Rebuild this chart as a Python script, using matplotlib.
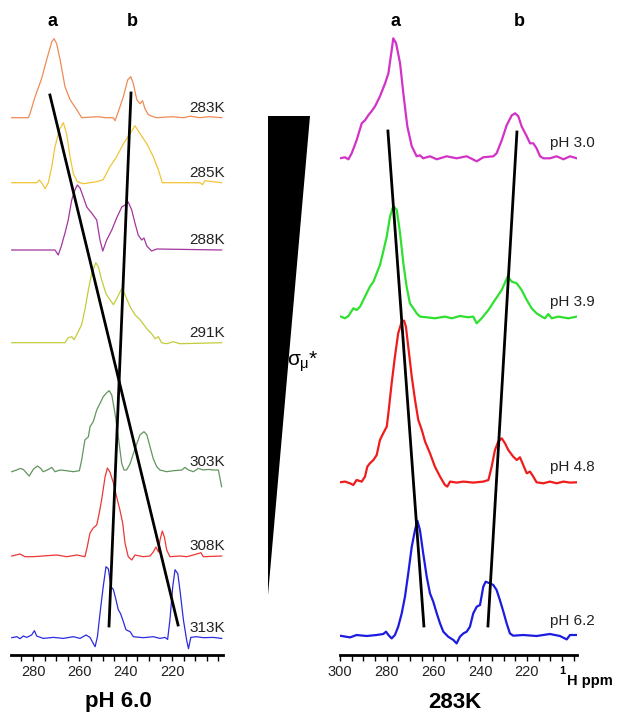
import numpy as np
import matplotlib
matplotlib.use('Agg')
import matplotlib.pyplot as plt
from matplotlib.patches import Polygon

plt.rcParams['font.family'] = ['Liberation Sans', 'DejaVu Sans']
plt.rcParams['mathtext.fontset'] = 'custom'
plt.rcParams['mathtext.rm'] = 'Liberation Sans'
plt.rcParams['mathtext.it'] = 'Liberation Sans'
plt.rcParams['mathtext.bf'] = 'Liberation Sans:bold'

# ---- left panel: temperature series at pH 6.0 (ppm, intensity above baseline)
t283_ppm = [289.2, 282.0, 281.3, 279.1, 276.3, 274.1, 271.9, 270.9, 269.8, 268.3, 266.2, 264.0, 261.1, 259.0,
            252.0, 248.5, 245.3, 244.6, 243.2, 241.0, 239.1, 237.8, 236.7, 235.2, 233.8, 232.7, 231.7, 230.2,
            228.1, 226.6, 220.0, 215.0, 212.2, 208.0, 204.0, 198.6]
t283_int = [0, 0, 4, 21, 39, 58, 76, 79, 74, 58, 31, 18, 8, 0,
            1, 0, 0, -3, 6, 21, 38, 41, 34, 18, 14, 17, 9, 3,
            1, 0, 1, 0, 1.5, 0, 1, 0]

t285_ppm = [289.2, 278.4, 277.3, 276.0, 274.8, 273.4, 271.9, 270.5, 268.6, 266.9, 265.5, 264.0, 262.6, 260.9,
            258.3, 252.5, 249.7, 246.8, 243.9, 241.0, 238.1, 236.0, 233.8, 230.9, 228.1, 225.9, 224.2,
            207.9, 206.9, 205.8, 198.6]
t285_int = [0, 0, 2.7, -1, -6, 0, 16, 36, 53, 60, 49, 26, 9, 1,
            -1, 1, 3, 16, 26, 39, 49, 57, 49, 39, 26, 13, 0,
            0, -2, 2, 0]

t288_ppm = [289.2, 270.5, 269.1, 267.9, 266.2, 264.8, 263.3, 261.9, 260.9, 259.7, 258.3, 256.8, 254.7, 252.5,
            251.1, 249.9, 248.2, 246.0, 243.9, 241.7, 240.3, 238.9, 237.4, 236.0, 234.6, 233.1, 232.1, 230.9,
            228.8, 226.6, 198.6]
t288_int = [0, 0, -5, 3, 17, 30, 50, 60, 65, 62, 53, 43, 37, 30,
            10, -1, 10, 20, 32, 43, 45, 48, 40, 27, 15, 10, 12, 4,
            -1, 1, 0]

t291_ppm = [289.2, 266.2, 264.8, 263.3, 262.3, 260.9, 259.0, 257.6, 256.1, 254.7, 252.9, 251.8, 250.4, 248.5,
            246.8, 245.3, 243.9, 241.7, 240.3, 238.1, 236.0, 233.8, 230.9, 228.8, 227.3, 225.9, 224.5,
            222.3, 219.4, 216.6, 198.6]
t291_int = [0, 0, 5, 6, 3, 9, 18, 33, 53, 69, 80, 76, 63, 49,
            43, 38, 44, 54, 48, 36, 28, 23, 14, 9, 4, 6, 0,
            -1, 1, -1, 0]

t303_ppm = [289.2, 287.0, 285.6, 284.2, 282.7, 281.6, 279.9, 278.1, 276.7, 275.6, 273.8, 271.9, 270.5, 268.3,
            265.5, 262.6, 260.0, 259.0, 257.6, 256.1, 255.4, 254.0, 252.5, 251.1, 249.7, 248.2, 247.1, 246.0,
            244.6, 243.2, 241.7, 240.7, 239.6, 238.1, 236.7, 235.2, 233.8, 232.1, 230.9, 229.5, 228.1, 226.6,
            225.2, 222.3, 219.4, 215.8, 214.4, 212.9, 210.8, 208.7, 206.5, 204.3, 202.2, 200.0, 198.6]
t303_int = [0, 1.7, 3.3, 2.3, -1.7, -4.3, 2.3, 5.7, 3.3, 0, 1.7, 4.3, 0, 1.7,
            1, 0, 1, 11.7, 31.7, 35, 45, 50, 61.7, 68.3, 75, 79, 81, 76.7,
            58, 35, 8, 1.7, 1.7, 8, 18, 28, 37, 40, 37, 25, 13, 5,
            1.7, 0, 1, 1.7, 4.3, 1.7, 0, 3.3, 1.7, 2.3, 1.7, 1.7, -15]

t308_ppm = [289.2, 285.6, 283.5, 279.9, 269.8, 265.5, 261.1, 257.6, 256.6, 255.4, 254.0, 252.5, 251.4, 250.4,
            248.9, 247.9, 246.8, 245.3, 243.9, 242.5, 241.3, 240.3, 238.9, 237.4, 236.0, 232.4, 229.5, 228.1,
            226.9, 225.9, 225.2, 224.2, 223.3, 222.3, 220.9, 216.6, 213.7, 210.8, 207.5, 206.5, 198.6]
t308_int = [0, 2, -0.7, -0.7, 1, -0.7, 1, -0.7, 9, 23, 28, 31, 43, 56,
            79, 88, 84, 73, 59, 46, 33, 13, -0.7, -4, 1, -0.7, 0, 4,
            9, 4, 16, 25, 19, 6, -0.7, 0, -0.7, 1, 3.3, -0.7, 0]

t313_ppm = [289.2, 287.0, 285.6, 284.2, 282.7, 280.6, 279.4, 278.4, 275.6, 271.2, 266.9, 262.6, 259.7, 257.1,
            255.4, 254.0, 253.2, 252.2, 251.1, 249.7, 248.5, 247.5, 246.3, 245.3, 244.2, 243.2, 242.2, 241.0,
            239.9, 238.1, 236.7, 232.4, 228.1, 225.2, 223.0, 221.9, 220.9, 219.7, 218.7, 217.5, 216.6, 215.1,
            213.7, 212.9, 211.9, 209.4, 206.5, 202.2, 198.6]
t313_int = [0, 1, -1, 1.7, 0.3, 2.7, 7, 1.7, -0.7, 0.3, -0.7, 1, -0.7, 2.7,
            0.3, -5.7, -9, 1, 24, 51, 71, 69, 51, 48, 38, 28, 24, 16,
            8, 6, 1, 0, 1, -0.7, 0.3, -1.7, 18, 51, 68, 64, 48, 18,
            -2.3, -11, 0.3, 1, 0, 0.3, -0.7]

temp_labels = ['283K', '285K', '288K', '291K', '303K', '308K', '313K']
temp_ppm = [t283_ppm, t285_ppm, t288_ppm, t291_ppm, t303_ppm, t308_ppm, t313_ppm]
temp_int = [t283_int, t285_int, t288_int, t291_int, t303_int, t308_int, t313_int]
temp_offset = [537.3, 472.3, 405, 312.3, 183.3, 99, 17.3]
temp_colors = ['#f08a55', '#f2c435', '#a3359f', '#c3cc3a', '#63955f', '#ef3535', '#2b2bdf']

# guide lines for peaks a and b (ppm, height)
left_a_ppm = [272.7, 217.4]
left_a_y = [560, 30]
left_b_ppm = [237.7, 247.2]
left_b_y = [562, 29]

# ---- right panel: pH series at 283K
p30_ppm = [300.0, 297.9, 296.4, 295.0, 292.9, 290.7, 289.3, 287.9, 286.5, 285.0, 282.9, 280.7, 279.3, 277.9,
           277.2, 276.0, 274.3, 272.9, 271.2, 269.3, 267.2, 265.8, 264.4, 261.5, 258.6, 254.4, 250.1, 245.8,
           241.5, 238.7, 234.4, 233.0, 230.8, 228.7, 226.5, 225.1, 223.7, 222.3, 220.1, 218.7, 217.3, 215.9,
           214.4, 213.0, 210.2, 207.3, 204.4, 201.6, 198.7]
p30_int = [0, 1, -1, 5, 18, 35, 38, 43, 47, 52, 62, 75, 85, 108,
           120, 115, 95, 65, 32, 12, 2, 3, 0, 2, -1, 2, 0, 2,
           -3, 1, 2, 5, 18, 33, 43, 45, 42, 32, 22, 15, 15, 10,
           2, 0, 0, 2, -1, 2, 0]

p39_ppm = [299.6, 297.9, 296.4, 294.3, 292.9, 291.4, 289.3, 287.2, 285.7, 284.3, 282.9, 281.5, 280.0, 278.6,
           277.2, 275.7, 274.3, 272.9, 271.5, 270.1, 268.6, 267.2, 265.8, 262.9, 259.4, 255.1, 252.2, 248.7,
           245.1, 243.0, 241.5, 239.4, 236.5, 233.7, 230.8, 228.3, 226.5, 224.4, 222.3, 220.1, 218.0, 215.9,
           213.7, 212.3, 210.9, 209.4, 206.6, 202.3, 198.7]
p39_int = [0.7, -1, 1.3, 9, 7.3, 10.7, 20.7, 30.7, 35.7, 44, 52.3, 65.7, 80.7, 100.7,
           111.3, 107.3, 84, 54, 30.7, 14, 9, 4, 0.7, 0, -1, 0.7, -1, 1.3,
           0, 0.7, -6, -1, 7.3, 17.3, 27.3, 40.7, 35.7, 34, 27.3, 17.3, 9, 4,
           0.7, -1, 3.3, -1, 0.7, -1, 0.7]

p48_ppm = [300.0, 297.9, 295.7, 294.3, 292.9, 290.7, 289.3, 288.3, 287.2, 285.7, 284.3, 282.9, 281.5, 280.0,
           279.3, 277.9, 276.5, 275.1, 273.6, 272.6, 271.8, 270.8, 269.3, 267.9, 266.5, 265.0, 263.6, 261.5,
           259.4, 257.2, 255.1, 254.1, 252.9, 250.1, 247.2, 243.0, 238.7, 236.5, 235.1, 233.7, 232.3, 230.8,
           229.4, 228.0, 225.9, 224.4, 223.0, 221.6, 220.1, 218.7, 217.3, 215.9, 213.0, 210.2, 207.3, 204.4,
           201.6, 198.7]
p48_int = [0, 0.7, -1, -2.7, 2.3, 0.7, 5.7, 15.7, 19, 22.3, 27.3, 42.3, 49, 55.7,
           69, 99, 125.7, 149, 160.7, 161.7, 155.7, 135.7, 105.7, 82.3, 62.3, 52.3, 40.7, 29,
           15.7, 5.7, -2.7, -4.3, 0.7, -0.3, 0.7, -0.3, 0.7, 2.3, 15.7, 32.3, 40.7, 44,
           39, 32.3, 25.7, 22.3, 25, 17.3, 9, 10.7, 5.7, 0, -1, 0.7, -1, 0.7,
           -0.3, 0]

p62_ppm = [300.0, 295.7, 292.9, 288.6, 284.3, 281.5, 280.3, 279.3, 277.9, 276.5, 275.1, 273.6, 272.2, 270.8,
           269.3, 267.9, 266.9, 265.8, 264.4, 262.9, 261.5, 260.1, 258.6, 257.2, 255.8, 253.7, 251.5, 250.1,
           248.7, 247.2, 245.8, 244.4, 243.0, 241.5, 240.1, 238.7, 237.7, 235.8, 234.4, 233.0, 231.6, 230.1,
           228.7, 227.3, 225.9, 221.6, 215.9, 210.2, 205.9, 203.0, 201.6, 198.5]
p62_int = [0, -1.7, 0.7, -0.3, 0.7, 1.7, 4, 0.7, -2.7, 0.7, 9, 22.3, 39, 62.3,
           89, 105.7, 115, 105.7, 82.3, 59, 42.3, 34, 22.3, 12.3, 4, -1, -4.3, -7.7,
           -1, 2.3, 4, 9, 22.3, 29, 30.7, 49, 54, 52.3, 50.7, 45.7, 35.7, 24,
           12.3, 2.3, 0, 0.7, -0.3, 1.7, -0.3, -3.7, 0.7, 0.7]

ph_labels = ['pH 3.0', 'pH 3.9', 'pH 4.8', 'pH 6.2']
ph_ppm = [p30_ppm, p39_ppm, p48_ppm, p62_ppm]
ph_int = [p30_int, p39_int, p48_int, p62_int]
ph_offset = [496.7, 337.7, 172.7, 19.3]
ph_colors = ['#d232c6', '#2fe02f', '#f01c1c', '#1c1ce0']

right_a_ppm = [279.5, 264.1]
right_a_y = [524, 29]
right_b_ppm = [224.3, 236.7]
right_b_y = [523, 29]

W, H = 621, 715
fig = plt.figure(figsize=(W / 100., H / 100.), dpi=100)

def setup(ax, xlim, majors, minors):
	ax.set_xlim(xlim)
	ax.set_ylim(0, 655)
	for s in ['top', 'left', 'right']:
		ax.spines[s].set_visible(False)
	ax.spines['bottom'].set_linewidth(2)
	ax.set_yticks([])
	ax.set_xticks(majors)
	ax.set_xticks(minors, minor=True)
	ax.tick_params(axis='x', which='both', direction='out', length=4, width=1, labelsize=10.5,
	               labelcolor='#222222', pad=3)
	ax.patch.set_alpha(0)

# left panel
axL = fig.add_axes([11. / W, 60. / H, 212. / W, 655. / H])
setup(axL, (289.5, 198.0), [280, 260, 240, 220], np.arange(200, 290, 5))
for ppm, inten, off, col, lab in zip(temp_ppm, temp_int, temp_offset, temp_colors, temp_labels):
	axL.plot(ppm, np.array(inten) + off, color=col, lw=0.9)
	axL.text(197.2, off + 10, lab, ha='right', va='center', fontsize=11, color='#222222', clip_on=False)
axL.plot(left_a_ppm, left_a_y, color='black', lw=2)
axL.plot(left_b_ppm, left_b_y, color='black', lw=2)
axL.text(271.8, 634, 'a', ha='center', va='center', fontsize=13, fontweight='bold')
axL.text(237.0, 634, 'b', ha='center', va='center', fontsize=13, fontweight='bold')

# right panel
axR = fig.add_axes([340. / W, 60. / H, 237. / W, 655. / H])
setup(axR, (300, 198.6), [300, 280, 260, 240, 220], np.arange(200, 301, 5))
for ppm, inten, off, col, lab in zip(ph_ppm, ph_int, ph_offset, ph_colors, ph_labels):
	axR.plot(ppm, np.array(inten) + off, color=col, lw=1.6)
	axR.text(190.9, off + 15, lab, ha='right', va='center', fontsize=11, color='#222222', clip_on=False)
axR.plot(right_a_ppm, right_a_y, color='black', lw=2)
axR.plot(right_b_ppm, right_b_y, color='black', lw=2)
axR.text(276.2, 634, 'a', ha='center', va='center', fontsize=13, fontweight='bold')
axR.text(223.4, 634, 'b', ha='center', va='center', fontsize=13, fontweight='bold')

# titles under the axes
fig.text(118. / W, 1 - 702. / H, 'pH 6.0', ha='center', va='center', fontsize=16, fontweight='bold')
fig.text(455. / W, 1 - 702. / H, '283K', ha='center', va='center', fontsize=16, fontweight='bold')
fig.text(562. / W, 1 - 671. / H, '1', ha='center', va='center', fontsize=8, fontweight='bold')
fig.text(567. / W, 1 - 681. / H, 'H ppm', ha='left', va='center', fontsize=10.5, fontweight='bold')

# wedge between panels
tri = Polygon([[268. / W, 1 - 116. / H], [310. / W, 1 - 116. / H], [268. / W, 1 - 595. / H]],
              closed=True, facecolor='black', edgecolor='none', transform=fig.transFigure)
fig.add_artist(tri)
fig.text(287. / W, 1 - 362. / H, r'$\sigma_{\mu}$*', ha='left', va='center', fontsize=15)

fig.savefig('out.png', dpi=100)
